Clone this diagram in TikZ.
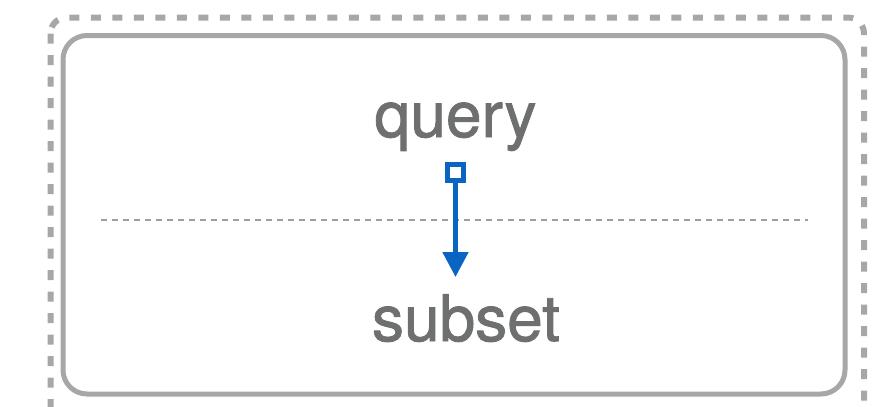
\documentclass[tikz,border=0pt]{standalone}
\usepackage{fontspec}
\setmainfont{TeX Gyre Heros}
\newfontfamily\medfont{TeX Gyre Heros}[BoldFont={TeX Gyre Heros}, BoldFeatures={FakeBold=1.3}]
\usetikzlibrary{arrows.meta}
\definecolor{boxgray}{HTML}{A5A8A7}
\definecolor{dotgray}{HTML}{9C9E9D}
\definecolor{txtgray}{HTML}{6D706F}
\definecolor{linkblue}{HTML}{0A64C2}
\tikzset{
  lbl/.style={text=txtgray, font=\medfont\bfseries\fontsize{64}{70}\selectfont, inner sep=0pt, anchor=base},
  srcbox/.style={draw=linkblue, line width=5pt, fill=white, minimum size=16pt, inner sep=0pt},
  link/.style={draw=linkblue, line width=5pt, -{Triangle[length=25pt,width=25pt]}},
}
\begin{document}
\begin{tikzpicture}[x=1pt,y=-1pt]
\useasboundingbox (0,0) rectangle (881,407);
\draw[boxgray, line width=6pt, dash pattern=on 10pt off 11.5pt, rounded corners=16pt] (50.5,17.5) rectangle (864,430);
\draw[boxgray, line width=5pt, rounded corners=24pt] (63,35.5) rectangle (845,394);
\draw[dotgray, line width=2.5pt, dash pattern=on 6pt off 5pt] (101,220) -- (808,220);
\node[lbl] (query) at (455.5,137) {query};
\node[lbl] (subset) at (466,341) {subset};
\node[srcbox] (src) at (455.5,172) {};
\coordinate (tip) at (455.5,277);
\draw[link] (src.south) -- (tip);
\end{tikzpicture}
\end{document}
